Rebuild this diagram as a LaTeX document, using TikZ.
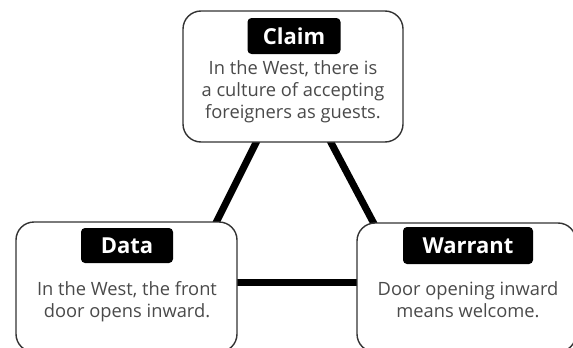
\documentclass[tikz,border=0pt]{standalone}
\usepackage{fontspec}
\setmainfont{Open Sans}
\usetikzlibrary{calc,backgrounds}
\definecolor{txt}{HTML}{4A4A4A}
\definecolor{edge}{HTML}{333333}
\tikzset{
  x=1pt,y=1pt,
  box/.style={draw=edge, line width=1.4pt, fill=white, rounded corners=18pt, inner sep=0pt},
  tag/.style={fill=black, text=white, rounded corners=4pt, inner sep=0pt, font=\fontsize{22}{22}\selectfont\bfseries},
  body/.style={text=txt, align=center, inner sep=0pt, font=\fontsize{18.3}{22}\selectfont},
  link/.style={line width=7pt, black}
}
\begin{document}
\begin{tikzpicture}
\useasboundingbox (0,0) rectangle (573,-348);
% boxes
\node[box, minimum width=220pt, minimum height=131pt] (claim) at (293,-76.5) {};
\node[box, minimum width=221pt, minimum height=130pt] (data) at (126.5,-287) {};
\node[box, minimum width=219pt, minimum height=129pt] (warrant) at (466.5,-287.5) {};
% tags
\node[tag, minimum width=93pt, minimum height=36pt] (claimtag) at (294,-36) {Claim};
\node[tag, minimum width=92pt, minimum height=35pt] (datatag) at (127,-245.5) {Data};
\node[tag, minimum width=130pt, minimum height=37pt] (warranttag) at (468,-245.5) {Warrant};
% body texts (anchor=base is the baseline of the last line)
\node[body, anchor=base] (claimtext) at (293,-118) {In the West, there is\\a culture of accepting\\foreigners as guests.};
\node[body, anchor=base] (datatext) at (127,-317) {In the West, the front\\door opens inward.};
\node[body, anchor=base] (warranttext) at (468,-317) {Door opening inward\\means welcome.};
% connectors
\begin{scope}[on background layer]
\draw[link] ($(claim.south)+(-36,2)$) -- ($(data.north east)+(-22,-2)$);
\draw[link] ($(claim.south)+(37,2)$) -- ($(warrant.north west)+(18,-2)$);
\draw[link] ($(data.east)+(-2,5)$) -- ($(warrant.west)+(2,5.5)$);
\end{scope}
\end{tikzpicture}
\end{document}
